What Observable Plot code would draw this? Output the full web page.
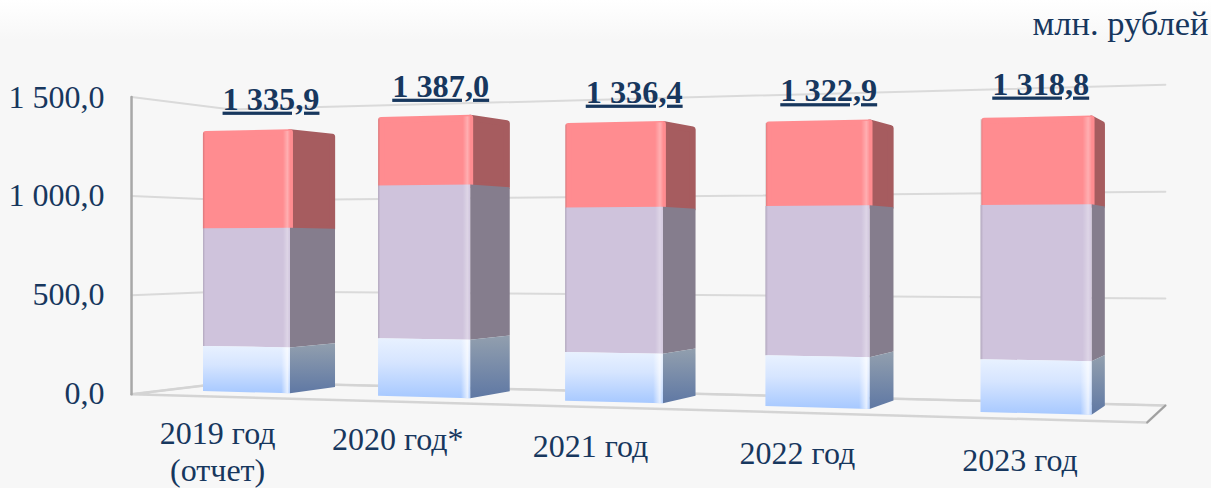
<!DOCTYPE html>
<html><head><meta charset="utf-8">
<script src="https://cdn.jsdelivr.net/npm/d3@7"></script>
<script src="https://cdn.jsdelivr.net/npm/@observablehq/plot@0.6"></script>
<style>
html,body{margin:0;padding:0;width:1211px;height:488px;overflow:hidden;background:linear-gradient(#ffffff 0,#f7f7f7 40px,#f7f7f7 100%);}
svg{display:block;background:transparent !important;}
</style></head><body><div id="chart"></div>
<script>
const years = ["2019 год\n(отчет)", "2020 год*", "2021 год", "2022 год", "2023 год"];
const totals = [1335.9, 1387.0, 1336.4, 1322.9, 1318.8];
const blue = [232, 286, 235, 236, 236];
const lilac = [605, 760, 695, 694, 691];
const pink = totals.map((t, i) => t - blue[i] - lilac[i]);
const yTicks = [0, 500, 1000, 1500];
const fmt = v => d3.format(",.1f")(v).replace(/,/g, " ").replace(".", ",");

// Perspective of the 3-D box: bar index (X), depth (Z), value (V) to plot units.
function project(X, Z, V) {
  const D = 1 - 0.0321 * X + 0.0444 * Z;
  const sx = (162.9 * X + 59.2 * Z + 203) / D;
  const sy = (-8 * X + 11 * Z + 391 - 0.1945 * V) / D;
  return {x: sx, y: (393 - sy) / 0.19733};
}
const XL = -0.239, XR = 4.75, ZF = -0.6, ZB = 1.4;
const Q = i => 0.505 - 0.004 * i;   // front-face width of bar i
const B = i => 1 + 0.03 * i;        // depth of bar i

function row(X, Z, lo, hi, id) {
  const a = project(X, Z, lo), b = project(X, Z, hi);
  return {x: a.x, lo: a.y, hi: b.y, id};
}
function front(i, lo, hi, id, inL = 0) {
  return [row(i + inL, 0, lo, hi, id), row(i + Q(i), 0, lo, hi, id)];
}
function side(i, lo, hi, id, inPx = 0) {
  const w = project(i + Q(i), B(i), 0).x - project(i + Q(i), 0, 0).x;
  return [row(i + Q(i), 0, lo, hi, id), row(i + Q(i), B(i) * (1 - inPx / w), lo, hi, id)];
}
const idx = d3.range(years.length);
const segs = idx.map(i => ({i, b: blue[i], l: blue[i] + lilac[i], t: totals[i]}));
const area = (rows, o) => Plot.area(rows, {x1: "x", y1: "lo", y2: "hi", z: "id", ...o});

const R = 15; // rounding inset of the top, in value units
const gridRows = yTicks.flatMap(v => [[XL, ZF], [XL, ZB], [XR, ZB]].map(([X, Z]) => ({...project(X, Z, v), v})));
const floorRows = [[XL, ZF], [XR, ZF], [XR, ZB], [XL, ZB], [XL, ZF]].map(([X, Z]) => project(X, Z, 0));
const rightEdge = [[XR, ZF], [XR, ZB]].map(([X, Z]) => project(X, Z, 0));
const wall = [0, 1500].map(v => project(XL, ZF, v));

const defs = () => d3.create("svg:g").html(`<defs>
<linearGradient id="bf" x1="0" y1="0" x2="0" y2="1"><stop offset="0" stop-color="#E8F1FF"/><stop offset="0.4" stop-color="#D6E5FF"/><stop offset="1" stop-color="#A6C8FF"/></linearGradient>
<linearGradient id="bs" x1="0" y1="0" x2="0" y2="1"><stop offset="0" stop-color="#929FAE"/><stop offset="1" stop-color="#5F78A4"/></linearGradient>
<linearGradient id="sheen" x1="0" y1="0" x2="1" y2="0"><stop offset="0" stop-color="#000" stop-opacity="0.14"/><stop offset="0.025" stop-color="#000" stop-opacity="0"/><stop offset="0.92" stop-color="#fff" stop-opacity="0"/><stop offset="0.97" stop-color="#fff" stop-opacity="0.3"/><stop offset="1" stop-color="#fff" stop-opacity="0.05"/></linearGradient>
<linearGradient id="sheenB" x1="0" y1="0" x2="1" y2="0"><stop offset="0.9" stop-color="#fff" stop-opacity="0"/><stop offset="0.97" stop-color="#fff" stop-opacity="0.7"/><stop offset="1" stop-color="#fff" stop-opacity="0.1"/></linearGradient>
</defs>`).node();

const labelPos = idx.map(i => project(i * 0.99 + 0.25, ZF, -170));
const totalPos = idx.map(i => project(i + 0.25, 0.5, totals[i]));
// hand placement of the total labels in the original chart
const nudgeX = [1, -4, 3, -2, -4], nudgeY = [5, 0, 0, 0, 15];
const underline = (index, scales, values, dimensions, context, next) => {
  const g = next(index, scales, values, dimensions, context);
  d3.select(g).selectAll("text").style("text-decoration", "underline").style("text-decoration-thickness", "3px").style("text-underline-offset", "5px");
  return g;
};

const plot = Plot.plot({
  width: 1211, height: 488,
  marginLeft: 104, marginRight: 0, marginTop: 0, marginBottom: 0,
  style: {fontFamily: "'Liberation Serif', serif", background: "transparent", overflow: "visible"},
  x: {domain: [104, 1211], range: [104, 1211], axis: null},
  y: {domain: [0, 1500], range: [393, 97], axis: null},
  marks: [
    defs,
    Plot.axisY(yTicks, {anchor: "left", tickSize: 0, tickPadding: 0, tickFormat: fmt, fontSize: 32, fill: "#17375E", label: null}),
    Plot.line(gridRows, {x: "x", y: "y", z: "v", stroke: "#DADADA", strokeWidth: 2}),
    Plot.line(floorRows, {x: "x", y: "y", stroke: "#D4D4D4", strokeWidth: 2.5}),
    Plot.line(rightEdge, {x: "x", y: "y", stroke: "#A0A0A0", strokeWidth: 2}),
    Plot.line(wall, {x: "x", y: "y", stroke: "#A8A8A8", strokeWidth: 2.5}),
    // pink tops (rounded through a round-joined stroke)
    area(segs.flatMap(s => side(s.i, s.l, s.t - R, `ps${s.i}`, 3)), {fill: "#A65C5F", stroke: "#A65C5F", strokeWidth: 6, strokeLinejoin: "round"}),
    area(segs.flatMap(s => front(s.i, s.l, s.t - R, `pf${s.i}`, 0.017)), {fill: "#FF8C90", stroke: "#FF8C90", strokeWidth: 6, strokeLinejoin: "round"}),
    // lilac
    area(segs.flatMap(s => side(s.i, s.b, s.l, `ls${s.i}`)), {fill: "#857D8D"}),
    area(segs.flatMap(s => front(s.i, s.b, s.l, `lf${s.i}`)), {fill: "#CFC3DC"}),
    // blue
    area(segs.flatMap(s => side(s.i, 0, s.b, `bs${s.i}`)), {fill: "url(#bs)"}),
    area(segs.flatMap(s => front(s.i, 0, s.b, `bf${s.i}`)), {fill: "url(#bf)"}),
    // corner sheen over the front faces
    area(segs.flatMap(s => front(s.i, s.b, s.t - R / 2, `sh${s.i}`)), {fill: "url(#sheen)"}),
    area(segs.flatMap(s => front(s.i, 0, s.b, `shb${s.i}`)), {fill: "url(#sheenB)"}),
    Plot.text(idx, {x: i => totalPos[i].x + nudgeX[i], y: i => totalPos[i].y + nudgeY[i], text: i => fmt(totals[i]), dy: -33, fontSize: 32.3, fontWeight: "bold", fill: "#17375E", render: underline}),
    Plot.text(idx, {x: i => labelPos[i].x, y: i => labelPos[i].y, text: i => years[i], lineAnchor: "top", lineHeight: 1.15, fontSize: 32, fill: "#17375E", dx: 1.5, dy: -13}),
    Plot.text(["млн. рублей"], {frameAnchor: "top-right", dx: -3, dy: 10, fontSize: 34.5, fill: "#17375E"})
  ]
});
document.getElementById("chart").append(plot);
</script></body></html>
